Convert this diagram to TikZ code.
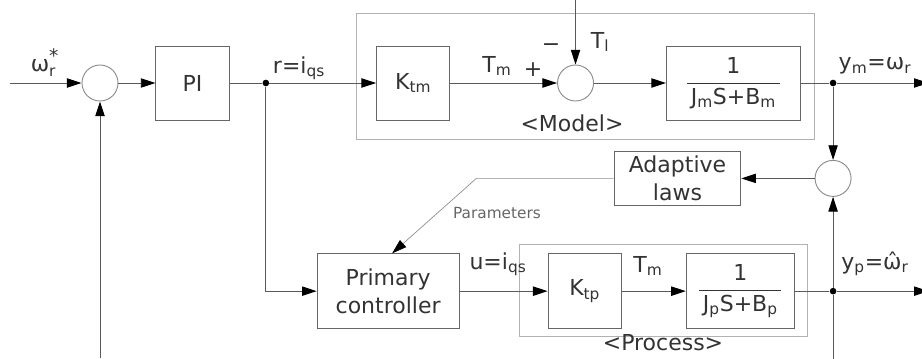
\documentclass[tikz,border=0pt]{standalone}
\usepackage{fontspec}
\setmainfont{DejaVu Sans}
\usetikzlibrary{positioning,arrows.meta}

\begin{document}
\begin{tikzpicture}[
  x=0.75pt, y=-0.75pt,
  font=\fontsize{16.5}{21}\selectfont,
  block/.style={draw=black!60, line width=0.7pt, text=black!80, align=center, inner sep=1pt,
    minimum width=55pt, minimum height=55.5pt},
  sumnode/.style={draw=black!45, circle, line width=0.7pt, minimum size=27pt, inner sep=0pt},
  junction/.style={fill=black, circle, minimum size=5pt, inner sep=0pt},
  groupframe/.style={draw=black!30, line width=0.7pt},
  wire/.style={draw=black!65, line width=0.7pt},
  arrow/.style={wire, -{Triangle[length=11pt,width=7pt,color=black]}},
  thinarrow/.style={draw=black!45, line width=0.5pt, -{Triangle[length=11pt,width=7pt,color=black]}},
  sig/.style={text=black!80, inner sep=1pt}
]
\useasboundingbox (0,0) rectangle (922,358);

% upper path: reference model
\node[sumnode] (sum1) at (100,83) {};
\node[block, right=27.75pt of sum1] (pi) {PI};
\node[junction, right=24.4pt of pi] (jr) {};
\node[block, right=80pt of jr] (ktm) {K\textsubscript{tm}};
\node[sumnode, right=80pt of ktm] (sum2) {};
\node[block, minimum width=100.5pt, right=54pt of sum2] (fracm)
  {$\displaystyle\frac{\mbox{1}}{\mbox{\,J\textsubscript{m}S+B\textsubscript{m}\,}}$};
\node[junction, right=21.4pt of fracm] (jm) {};

% adaptation
\node[sumnode, below=55pt of jm] (sum3) {};
\node[block, minimum width=95pt, minimum height=40.5pt, left=55pt of sum3] (adapt) {Adaptive\\laws};

% lower path: process
\node[junction, below=68pt of sum3] (jp) {};
\node[block, minimum width=81pt, minimum height=56pt, left=26pt of jp] (fracp)
  {$\displaystyle\frac{\mbox{1}}{\mbox{\,J\textsubscript{p}S+B\textsubscript{p}\,}}$};
\node[block, minimum height=56pt, left=48pt of fracp] (ktp) {K\textsubscript{tp}};
\node[block, minimum width=106.5pt, minimum height=56pt, left=66pt of ktp] (prim) {Primary\\controller};

% frames
\draw[groupframe] ([shift={(-20,-32)}]ktm.north west) rectangle ([shift={(14,19)}]fracm.south east);
\draw[groupframe] ([shift={(-28,-9)}]ktp.north west) rectangle ([shift={(13,8)}]fracp.south east);

% free ends
\coordinate[left=54pt of sum1] (in);
\coordinate[right=69pt of jm] (outm);
\coordinate[right=69pt of jp] (outp);
\coordinate[above=48.75pt of sum2] (tl);
\coordinate[below=192.75pt of sum1] (fb1);
\coordinate[below=50pt of jp] (fb2);
\coordinate[left=103pt of adapt] (pbend);

% connectors
\draw[arrow] (in) -- (sum1);
\draw[arrow] (sum1) -- (pi);
\draw[wire] (pi) -- (jr);
\draw[arrow] (jr) -- (ktm);
\draw[arrow] (ktm) -- (sum2);
\draw[arrow] (tl) -- (sum2);
\draw[arrow] (sum2) -- (fracm);
\draw[wire] (fracm) -- (jm);
\draw[arrow] (jm) -- (outm);
\draw[arrow] (jm) -- (sum3);
\draw[arrow] (sum3) -- (adapt);
\draw[thinarrow] (adapt) -- (pbend) -- ([xshift=3pt]prim.north);
\draw[arrow] (jr) |- (prim);
\draw[arrow] (prim) -- (ktp);
\draw[arrow] (ktp) -- (fracp);
\draw[wire] (fracp) -- (jp);
\draw[arrow] (jp) -- (outp);
\draw[arrow] (jp) -- (sum3);
\draw[wire] (jp) -- (fb2);
\draw[arrow] (fb1) -- (sum1);

% signal labels
\node[sig] (lref) at (45,63)
  {$\mbox{ω}^{\mbox{\fontsize{14}{14}\selectfont *}}_{\mbox{\fontsize{11.5}{12}\selectfont r}}$};
\node[sig] (lr) at (299,68) {r=i\textsubscript{qs}};
\node[sig] (ltm) at (497,66) {T\textsubscript{m}};
\node[sig] (lplus) at (533,70) {+};
\node[sig] (lminus) at (551,48) {−};
\node[sig] (ltl) at (600,42) {T\textsubscript{l}};
\node[sig] (lmodel) at (572,123) {<Model>};
\node[sig] (lym) at (875,66) {y\textsubscript{m}=ω\textsubscript{r}};
\node[sig, font=\fontsize{11.5}{13}\selectfont, text=black!60] (lpar) at (497,213) {Parameters};
\node[sig] (lu) at (498,264) {u=i\textsubscript{qs}};
\node[sig] (ltp) at (648,266) {T\textsubscript{m}};
\node[sig] (lyp) at (875,264) {y\textsubscript{p}=\^{ω}\textsubscript{r}};
\node[sig] (lproc) at (663,343) {<Process>};
\end{tikzpicture}
\end{document}
